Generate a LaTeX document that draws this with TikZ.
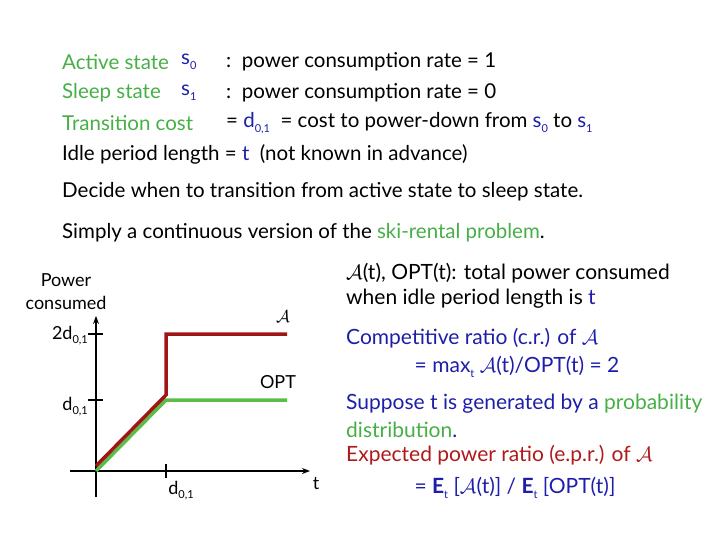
\documentclass[tikz,border=0pt]{standalone}
\usepackage{fontspec}
\setmainfont{Lato}
\usetikzlibrary{arrows.meta}
\definecolor{gtxt}{RGB}{70,175,70}
\definecolor{btxt}{RGB}{30,30,170}
\definecolor{rtxt}{RGB}{175,25,25}
\definecolor{gline}{RGB}{90,190,70}
\newcommand{\cA}{$\mathcal{A}$}
\newcommand{\sbt}[1]{\raisebox{-0.45ex}{\fontsize{11}{12}\selectfont #1}}
\begin{document}
\begin{tikzpicture}[x=1pt,y=-1pt,
  txt/.style={anchor=west,inner sep=0pt,font=\fontsize{20.5}{24}\selectfont},
  rtx/.style={anchor=west,inner sep=0pt,font=\fontsize{21}{24}\selectfont},
  small/.style={inner sep=0pt,font=\fontsize{18}{21}\selectfont},
  ax/.style={line width=1.3pt},
  tick/.style={line width=1.3pt}]
\useasboundingbox (0,0) rectangle (720,540);
% header
\node[txt,text=gtxt] (l1) at (62,62) {Active state};
\node[txt,text=btxt] (s0) at (181,62) {s\sbt{0}};
\node[txt] (c1) at (226,62) {:\ \ power consumption rate = 1};
\node[txt,text=gtxt] (l2) at (62,93) {Sleep state};
\node[txt,text=btxt] (s1) at (181,93) {s\sbt{1}};
\node[txt] (c2) at (226,93) {:\ \ power consumption rate = 0};
\node[txt,text=gtxt] (l3) at (62,123) {Transition cost};
\node[txt] (c3) at (226,123) {= \textcolor{btxt}{d\sbt{0,1}} \ = cost to power-down from \textcolor{btxt}{s\sbt{0}} to \textcolor{btxt}{s\sbt{1}}};
\node[txt] (l4) at (62,154) {Idle period length\ = \textcolor{btxt}{t}\ \ (not known in advance)};
\node[txt] (dec) at (62,192) {Decide when to transition from active state to sleep state.};
\node[txt] (sim) at (62,233) {Simply a continuous version of the \textcolor{gtxt}{ski-rental problem}.};
% graph
\coordinate (o) at (96,471);
\coordinate (ytop) at (96,316);
\coordinate (ybot) at (96,497);
\coordinate (xl) at (70,471);
\coordinate (xr) at (310,471);
\draw[ax,-{Stealth[length=8pt]}] (ybot) -- (ytop);
\draw[ax,-{Stealth[length=8pt]}] (xl) -- (xr);
\draw[tick] (88,334) -- (103,334);
\draw[tick] (88,400) -- (103,400);
\draw[tick] (166,464) -- (166,478);
\coordinate (g1) at (166,400);
\coordinate (g2) at (287,400);
\coordinate (r0) at (96,466);
\coordinate (r1) at (166,395);
\coordinate (r2) at (166,334);
\coordinate (r3) at (287,334);
\draw[gline,line width=3.5pt] (o) -- (g1) -- (g2);
\draw[rtxt!90!black,line width=3.5pt,line join=miter] (r0) -- (r1) -- (r2) -- (r3);
\node[small] (lA) at (283,317) {\cA};
\node[small] (lO) at (278,382) {OPT};
\node[small] (py) at (66,280) {Power};
\node[small] (pc) at (66,303) {consumed};
\node[small,anchor=east] (y2) at (88,336) {2d\sbt{0,1}};
\node[small,anchor=east] (y1) at (88,407) {d\sbt{0,1}};
\node[small] (xd) at (181,491) {d\sbt{0,1}};
\node[small] (xt) at (316,484) {t};
% right text
\node[rtx] (r1t) at (346,273) {\cA(t), OPT(t): total power consumed};
\node[rtx] (r2t) at (346,299) {when idle period length is \textcolor{btxt}{t}};
\node[rtx,text=btxt] (r3t) at (346,338) {Competitive ratio (c.r.) of \cA};
\node[rtx,text=btxt,anchor=center] (r4t) at (517,367) {= max\sbt{t}\ \cA(t)/OPT(t) = 2};
\node[rtx,text=btxt] (r5t) at (346,404) {Suppose \textcolor{btxt}{t} is generated by a \textcolor{gtxt}{probability}};
\node[rtx,text=gtxt] (r6t) at (346,430) {distribution\textcolor{btxt}{.}};
\node[rtx,text=rtxt] (r7t) at (346,455) {Expected power ratio (e.p.r.) of \cA};
\node[rtx,text=btxt,anchor=center] (r8t) at (515,488) {= \textbf{E}\sbt{t}\ [\cA(t)] / \textbf{E}\sbt{t}\ [OPT(t)]};
\end{tikzpicture}
\end{document}
